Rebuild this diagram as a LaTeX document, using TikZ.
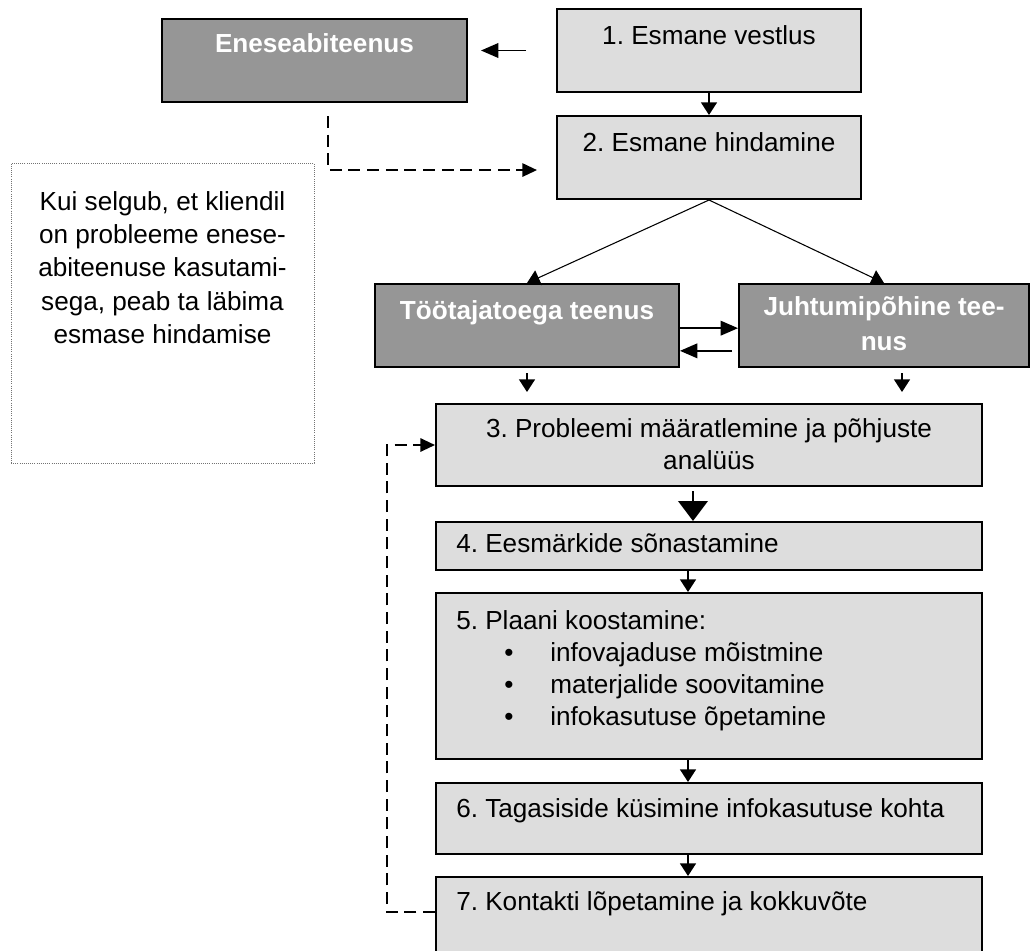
\documentclass[tikz,border=0pt]{standalone}
\usepackage{fontspec}
\setmainfont{Liberation Sans}
\usetikzlibrary{calc,arrows.meta,fit}

\definecolor{boxlight}{HTML}{DDDDDD}
\definecolor{boxdark}{HTML}{969696}
\newcommand{\bul}{\hspace*{36pt}\makebox[34.5pt][l]{\textbullet}}
\frenchspacing

\begin{document}
\begin{tikzpicture}[x=0.75pt,y=-0.75pt]
  \tikzstyle{lbox}=[draw=black,fill=boxlight,line width=1.5pt,inner sep=0pt]
  \tikzstyle{dbox}=[draw=black,fill=boxdark,line width=1.5pt,inner sep=0pt]
  \tikzstyle{nbox}=[draw=black!55,densely dotted,line width=0.6pt,inner sep=0pt]
  \tikzstyle{txt}=[inner sep=0pt,font=\fontsize{19.6}{24}\selectfont]
  \tikzstyle{wtxt}=[inner sep=0pt,text=white,font=\fontsize{19.6}{26}\selectfont\bfseries]
  \tikzstyle{conn}=[line width=1.1pt,-{Triangle[length=9.5pt,width=12pt]}]
  \tikzstyle{hconn}=[line width=1.1pt,-{Triangle[length=13pt,width=11pt]}]
  \tikzstyle{bigconn}=[line width=2.2pt,-{Triangle[length=15pt,width=22pt]}]
  \tikzstyle{dashln}=[line width=1.5pt,dash pattern=on 9pt off 5pt,-{Triangle[length=11pt,width=10pt]}]

  \useasboundingbox (0,0) rectangle (1031,950);

  \node[dbox, fit={(162,19) (467,102)}] (es) {};
  \node[lbox, fit={(557,9) (861,92)}] (b1) {};
  \node[lbox, fit={(557,116) (861,199)}] (b2) {};
  \node[nbox, fit={(11,163) (314,463)}] (nt) {};
  \node[dbox, fit={(375,284) (679,367)}] (tt) {};
  \node[dbox, fit={(739,284) (1029,367)}] (jt) {};
  \node[lbox, fit={(436,404) (982,486)}] (b3) {};
  \node[lbox, fit={(436,522) (982,570)}] (b4) {};
  \node[lbox, fit={(436,593) (982,759)}] (b5) {};
  \node[lbox, fit={(436,783) (982,854)}] (b6) {};
  \node[lbox, fit={(436,877) (982,962)}] (b7) {};

  % multi-line texts: anchor base sits on the last line
  \node[wtxt, anchor=base] (est) at ($(es.north)+(0,34)$) {Eneseabiteenus};
  \node[txt, anchor=base] (b1t) at ($(b1.north)+(0,36)$) {1. Esmane vestlus};
  \node[txt, anchor=base] (b2t) at ($(b2.north)+(0,36)$) {2. Esmane hindamine};
  \node[txt, anchor=base, align=center, font=\fontsize{19.6}{25}\selectfont] (ntt) at ($(nt.north)+(0,181)$)
    {Kui selgub, et kliendil\\on probleeme enese-\\abiteenuse kasutami-\\sega, peab ta läbima\\esmase hindamise};
  \node[wtxt, anchor=base] (ttt) at ($(tt.north)+(0,36)$) {Töötajatoega teenus};
  \node[wtxt, anchor=base, align=center] (jtt) at ($(jt.north)+(0,67)$) {Juhtumipõhine tee-\\nus};
  \node[txt, anchor=base, align=center] (b3t) at ($(b3.north)+(0,66)$) {3. Probleemi määratlemine ja põhjuste\\analüüs};
  \node[txt, anchor=base west] (b4t) at ($(b4.north west)+(21,31)$) {4. Eesmärkide sõnastamine};
  \node[txt, anchor=base west, align=left] (b5t) at ($(b5.north west)+(21,133)$)
    {5. Plaani koostamine:\\\bul infovajaduse mõistmine\\\bul materjalide soovitamine\\\bul infokasutuse õpetamine};
  \node[txt, anchor=base west] (b6t) at ($(b6.north west)+(21,35)$) {6. Tagasiside küsimine infokasutuse kohta};
  \node[txt, anchor=base west] (b7t) at ($(b7.north west)+(21,34)$) {7. Kontakti lõpetamine ja kokkuvõte};

  \draw[hconn, shorten <=22.5pt, shorten >=9.75pt] (b1.west) -- (b1.west -| es.east);
  \draw[conn] (b1.south) -- (b2.north);
  \draw[conn, line width=0.8pt] (b2.south) -- (tt.north);
  \draw[conn, line width=0.8pt] (b2.south) -- (jt.north);
  \draw[hconn] ([yshift=-2pt]tt.east) -- ([yshift=-2pt]jt.west);
  \draw[hconn, shorten <=4.5pt] ([yshift=-19pt]jt.west) -- ([yshift=-19pt]tt.east);
  \draw[conn, shorten <=3.75pt, shorten >=8.25pt] (tt.south) -- (tt.south |- b3.north);
  \draw[conn, shorten <=3.75pt, shorten >=8.25pt] ([xshift=13.5pt]jt.south) -- ([xshift=13.5pt]jt.south |- b3.north);
  \draw[bigconn, shorten <=3pt] ([xshift=-12pt]b3.south) -- ([xshift=-12pt]b3.south |- b4.north);
  \draw[conn] ([xshift=-15.75pt]b4.south) -- ([xshift=-15.75pt]b4.south |- b5.north);
  \draw[conn] ([xshift=-15.75pt]b5.south) -- ([xshift=-15.75pt]b5.south |- b6.north);
  \draw[conn] ([xshift=-15.75pt]b6.south) -- ([xshift=-15.75pt]b6.south |- b7.north);

  \draw[dashln] ([xshift=10pt,yshift=-9.75pt]es.south) |- ([xshift=-14.25pt,yshift=-9.4pt]b2.west);
  \coordinate (fb) at (387,912);
  \draw[dashln] (fb -| b7.west) -- (fb) |- (b3.west);
\end{tikzpicture}
\end{document}
